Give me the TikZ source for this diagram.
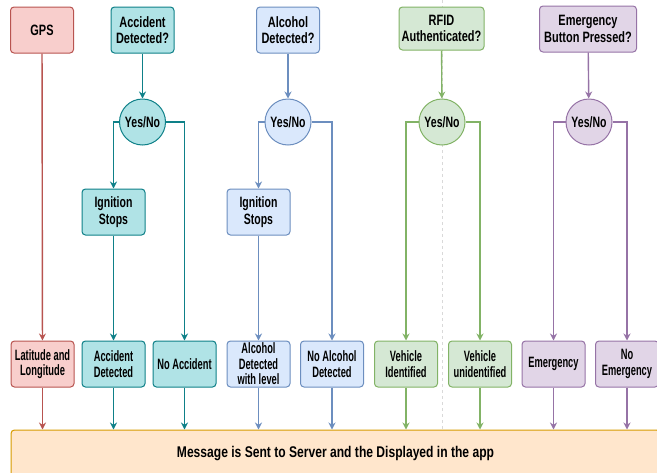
\documentclass[tikz,border=0pt]{standalone}
\usepackage{fontspec}
\setmainfont{Liberation Sans}
\newfontfamily\toprow{Liberation Sans}[FakeStretch=0.73]
\newfontfamily\midrow{Liberation Sans}[FakeStretch=0.70]
\newfontfamily\lowrow{Liberation Sans}[FakeStretch=0.62]
\newfontfamily\msgrow{Liberation Sans}[FakeStretch=0.78]
\usetikzlibrary{arrows.meta,positioning}
\definecolor{gpsfill}{HTML}{F8CECC}
\definecolor{gpsline}{HTML}{B85450}
\definecolor{accfill}{HTML}{B0E3E6}
\definecolor{accline}{HTML}{0E8088}
\definecolor{alcfill}{HTML}{DAE8FC}
\definecolor{alcline}{HTML}{6C8EBF}
\definecolor{rfidfill}{HTML}{D5E8D4}
\definecolor{rfidline}{HTML}{82B366}
\definecolor{emgfill}{HTML}{E1D5E7}
\definecolor{emgline}{HTML}{9673A6}
\definecolor{msgfill}{HTML}{FFE6CC}
\definecolor{msgline}{HTML}{D79B00}
\tikzset{%
	box/.style      = {draw, rounded corners=3.5pt, minimum height=46pt, minimum width=63pt, align=center, inner sep=1pt, line width=1pt}, % Step
	question/.style = {box, font=\toprow\bfseries\fontsize{15}{16.5}\selectfont}, % Question
	stepbox/.style  = {box, font=\midrow\bfseries\fontsize{15}{16.5}\selectfont}, % Action
	result/.style   = {box, font=\lowrow\bfseries\fontsize{15}{15.5}\selectfont}, % Result
	yesno/.style    = {draw, circle, minimum size=46pt, inner sep=0pt, line width=1pt, font=\midrow\bfseries\fontsize{15}{16.5}\selectfont}, % Decision
	flow/.style     = {-{Stealth[length=7pt,width=7pt]}, line width=1.4pt}, % Connector
	gpscol/.style   = {fill=gpsfill, draw=gpsline},
	acccol/.style   = {fill=accfill, draw=accline},
	alccol/.style   = {fill=alcfill, draw=alcline},
	rfidcol/.style  = {fill=rfidfill, draw=rfidline},
	emgcol/.style   = {fill=emgfill, draw=emgline},
	msgcol/.style   = {fill=msgfill, draw=msgline},
}
\begin{document}
\begin{tikzpicture}[x=1pt, y=-1pt]
		\useasboundingbox (0,0) rectangle (657,472);
		\draw[gray!30, dashed, line width=0.7pt] (442,0) -- (442,430);
		% questions
		\node[question,gpscol] (gps) at (42,30) {GPS};
		\node[question,acccol] (accq) at (142.5,30) {Accident\\Detected?};
		\node[question,alccol] (alcq) at (288,30) {Alcohol\\Detected?};
		\node[question,rfidcol,minimum width=85pt,minimum height=43pt] (rfidq) at (441.5,28.5) {RFID\\Authenticated?};
		\node[question,emgcol,minimum width=97pt] (emgq) at (588,29) {Emergency\\Button Pressed?};
		% decisions
		\node[yesno,acccol] (accyn) at (142.5,122) {Yes/No};
		\node[yesno,alccol] (alcyn) at (288,122) {Yes/No};
		\node[yesno,rfidcol] (rfidyn) at (442,122) {Yes/No};
		\node[yesno,emgcol] (emgyn) at (589,122) {Yes/No};
		\node[stepbox,acccol] (accign) at (113.5,212) {Ignition\\Stops};
		\node[stepbox,alccol] (alcign) at (258.5,212) {Ignition\\Stops};
		% results
		\node[result,gpscol] (latlon) at (42.5,364) {Latitude and\\Longitude};
		\node[result,acccol] (accyes) at (113.5,364) {Accident\\Detected};
		\node[result,acccol] (accno) at (184.5,364) {No Accident};
		\node[result,alccol] (alcyes) at (258.5,364) {Alcohol\\Detected\\with level};
		\node[result,alccol] (alcno) at (332,364) {No Alcohol\\Detected};
		\node[result,rfidcol] (rfidyes) at (406,364) {Vehicle\\Identified};
		\node[result,rfidcol] (rfidno) at (480,364) {Vehicle\\unidentified};
		\node[result,emgcol] (emgyes) at (553.5,364) {Emergency};
		\node[result,emgcol] (emgno) at (627,364) {No\\Emergency};
		\node[box,msgcol,minimum width=649pt,minimum height=48pt,font=\msgrow\bfseries\fontsize{15.5}{18}\selectfont] (msg) at (335.5,454) {Message is Sent to Server and the Displayed in the app};
		% connectors
		\draw[flow,gpsline] (gps) -- (latlon);
		\draw[flow,accline] (accq) -- (accyn);
		\draw[flow,accline] (accyn.west) -| (accign);
		\draw[flow,accline] (accign) -- (accyes);
		\draw[flow,accline] (accyn.east) -| (accno);
		\draw[flow,alcline] (alcq) -- (alcyn);
		\draw[flow,alcline] (alcyn.west) -| (alcign);
		\draw[flow,alcline] (alcign) -- (alcyes);
		\draw[flow,alcline] (alcyn.east) -| (alcno);
		\draw[flow,rfidline] (rfidq) -- (rfidyn);
		\draw[flow,rfidline] (rfidyn.west) -| (rfidyes);
		\draw[flow,rfidline] (rfidyn.east) -| (rfidno);
		\draw[flow,emgline] (emgq) -- (emgyn);
		\draw[flow,emgline] (emgyn.west) -| (emgyes);
		\draw[flow,emgline] (emgyn.east) -| (emgno);
		\draw[flow,gpsline] (latlon) -- (latlon |- msg.north);
		\draw[flow,accline] (accyes) -- (accyes |- msg.north);
		\draw[flow,accline] (accno) -- (accno |- msg.north);
		\draw[flow,alcline] (alcyes) -- (alcyes |- msg.north);
		\draw[flow,alcline] (alcno) -- (alcno |- msg.north);
		\draw[flow,rfidline] (rfidyes) -- (rfidyes |- msg.north);
		\draw[flow,rfidline] (rfidno) -- (rfidno |- msg.north);
		\draw[flow,emgline] (emgyes) -- (emgyes |- msg.north);
		\draw[flow,emgline] (emgno) -- (emgno |- msg.north);
		
		\end{tikzpicture}
\end{document}
